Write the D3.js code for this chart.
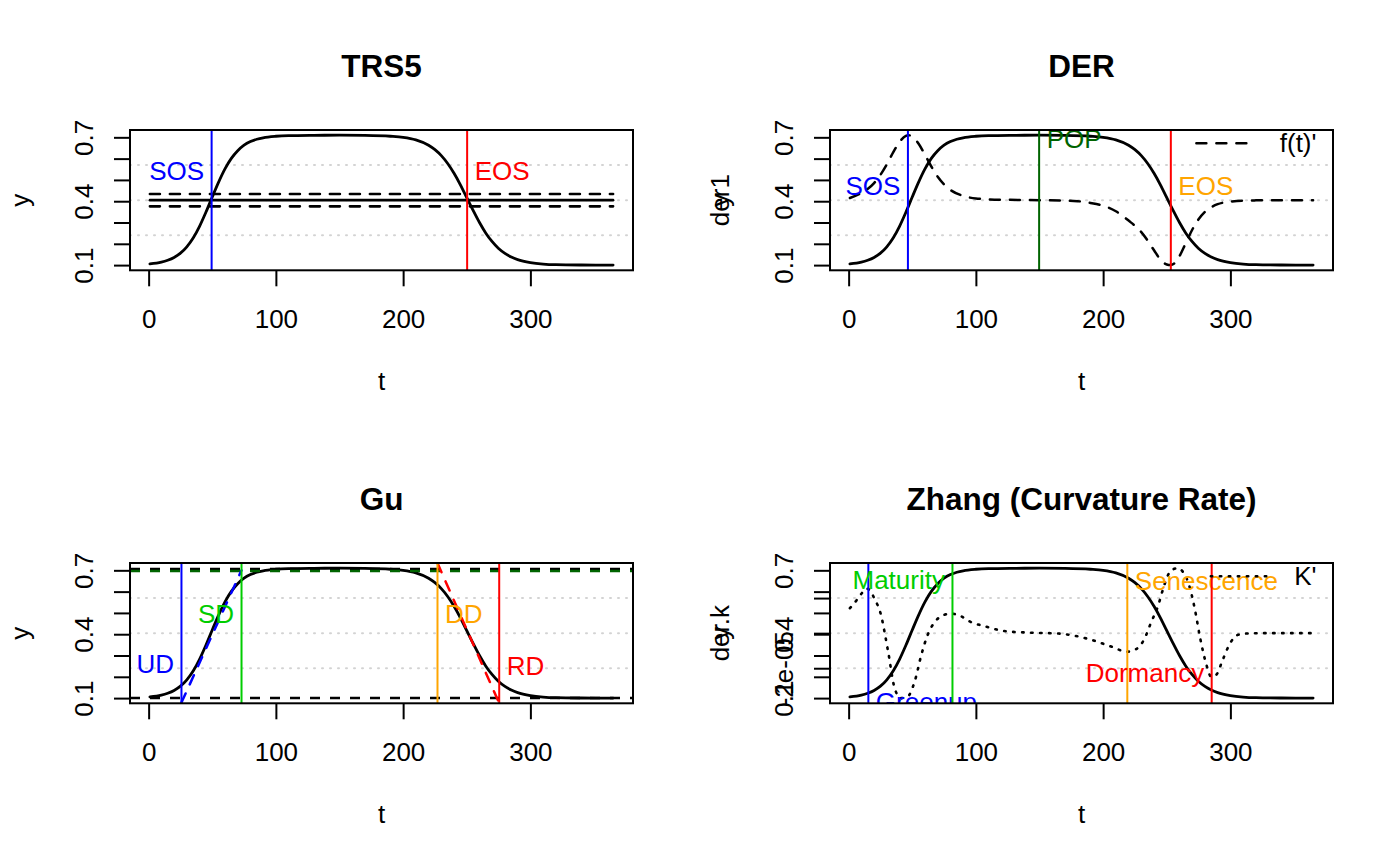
<!DOCTYPE html>
<html><head><meta charset="utf-8">
<script src="https://cdn.jsdelivr.net/npm/d3@7"></script>
<style>body{margin:0;background:#fff}</style>
</head><body><svg id="c" width="1400" height="866"></svg>
<script>
// ---------------- data ----------------
const titles = ["TRS5", "DER", "Gu", "Zhang (Curvature Rate)"];
const yTitles = [["y"], ["der1", "y"], ["y"], ["der.k", "y"]];
const xTitle = "t";
const xLim = [0, 366];
const yLim = [0.1, 0.71];
const xTicks = [0, 100, 200, 300];
const yTicks = [0.1, 0.2, 0.3, 0.4, 0.5, 0.6, 0.7];
const yTickLabels = ["0.1", "", "", "0.4", "", "", "0.7"];
const kTicks = [-2e-05, 0, 2e-05];
const kTickLabels = ["-2e-05", "", ""];
const kLim = [-4e-05, 4e-05];

// fitted curve (same in every panel)
const tCurve = [1, 10, 15, 20, 25, 30, 35, 40, 45, 50, 55, 60, 65, 70, 75, 80, 85, 90, 100, 110, 130, 150, 170, 190, 200, 210, 220, 225, 230, 235, 240, 245, 250, 255, 260, 265, 270, 275, 280, 285, 290, 300, 310, 320, 340, 365];
const yCurve = [0.106, 0.114, 0.123, 0.136, 0.156, 0.186, 0.227, 0.282, 0.348, 0.420, 0.490, 0.552, 0.601, 0.637, 0.663, 0.680, 0.691, 0.698, 0.705, 0.708, 0.7095, 0.710, 0.709, 0.705, 0.700, 0.688, 0.663, 0.642, 0.614, 0.577, 0.531, 0.477, 0.417, 0.357, 0.300, 0.250, 0.210, 0.178, 0.155, 0.138, 0.126, 0.112, 0.105, 0.102, 0.1005, 0.100];

// TRS5 panel
const trsLevels = [0.376, 0.405, 0.434];
const trsLevelDashed = [true, false, true];
const trsDates = [49.5, 250.3];
const trsNames = ["SOS", "EOS"];
const trsColors = ["blue", "red"];
const trsLabelY = [0.5, 0.5];
const trsSide = ["left", "right"];

// DER panel: scaled first derivative f(t)'
const tDer = [1, 10, 20, 25, 30, 35, 40, 45, 47, 50, 55, 60, 65, 70, 75, 80, 90, 100, 120, 150, 180, 190, 200, 210, 220, 230, 240, 245, 250, 253, 256, 260, 265, 270, 275, 280, 285, 290, 300, 320, 365];
const yDer = [0.415, 0.439, 0.485, 0.524, 0.573, 0.629, 0.678, 0.707, 0.71, 0.704, 0.670, 0.618, 0.563, 0.515, 0.479, 0.453, 0.425, 0.413, 0.407, 0.405, 0.400, 0.392, 0.379, 0.353, 0.309, 0.255, 0.170, 0.126, 0.103, 0.1, 0.108, 0.142, 0.204, 0.266, 0.315, 0.350, 0.372, 0.386, 0.398, 0.404, 0.405];
const derDates = [46.6, 149.7, 253.2];
const derNames = ["SOS", "POP", "EOS"];
const derLineColors = ["blue", "darkgreen", "red"];
const derTextColors = ["blue", "darkgreen", "orange"];
const derLabelY = [0.429, 0.648, 0.429];
const derSide = ["left", "right", "right"];
const derLegend = "f(t)'";

// Gu panel
const guLevels = [0.1, 0.706, 0.697];
const guLevelColors = ["black", "black", "darkgreen"];
const guDates = [25.8, 73, 227, 275.5];
const guNames = ["UD", "SD", "DD", "RD"];
const guColors = ["blue", "#00CD00", "orange", "red"];
const guLabelY = [0.216, 0.451, 0.451, 0.208];
const guSide = ["left", "left", "right", "right"];
const guUpT = [25.8, 73], guUpY = [0.079, 0.70];
const guDownT = [227, 275.5], guDownY = [0.734, 0.076];

// Zhang panel: curvature rate K'
const tK = [1, 5, 10, 14, 17, 20, 25, 31, 36, 41, 46, 52, 57, 62, 68, 74, 80, 88, 95, 108, 122, 140, 165, 190, 205, 219, 226, 232, 238, 243, 247, 251, 255, 259, 263, 267, 272, 276, 281, 285, 289, 294, 300, 306, 315, 325, 365];
const yK = [0.522, 0.55, 0.59, 0.614, 0.605, 0.57, 0.50, 0.32, 0.15, 0.10, 0.105, 0.18, 0.30, 0.395, 0.46, 0.488, 0.497, 0.485, 0.46, 0.436, 0.415, 0.408, 0.403, 0.375, 0.345, 0.318, 0.33, 0.373, 0.46, 0.53, 0.61, 0.678, 0.705, 0.71, 0.69, 0.64, 0.52, 0.39, 0.26, 0.20, 0.21, 0.28, 0.36, 0.397, 0.404, 0.405, 0.405];
const zhDates = [15.5, 81.6, 219, 285.3];
const zhNames = ["Greenup", "Maturity", "Senescence", "Dormancy"];
const zhColors = ["blue", "#00CD00", "orange", "red"];
const zhLabelY = [0.039, 0.614, 0.607, 0.177];
const zhSide = ["right", "left", "right", "left"];
const zhLegend = "K'";

// ---------------- drawing ----------------
const FF = '"Liberation Sans", Arial, Helvetica, sans-serif';
const FS = 26, TFS = 31.5;
const svg = d3.select("#c");
svg.append("rect").attr("width", 1400).attr("height", 866).attr("fill", "#fff");
const pad = (a) => { const r = a[1] - a[0]; return [a[0] - 0.04 * r, a[1] + 0.04 * r]; };
const xDom = pad(xLim), yDom = pad(yLim);
const gridFrac = [0.25, 0.5, 0.75];

function panel(i) {
  const col = i % 2, row = Math.floor(i / 2);
  const L = 130 + 700 * col, R = 633 + 700 * col, T = 130 + 433 * row, B = 270.3 + 433 * row;
  const x = d3.scaleLinear().domain(xDom).range([L, R]);
  const y = d3.scaleLinear().domain(yDom).range([B, T]);
  const g = svg.append("g").attr("font-family", FF);
  svg.append("clipPath").attr("id", "clip" + i).append("rect")
    .attr("x", L).attr("y", T).attr("width", R - L).attr("height", B - T);
  const pg = g.append("g").attr("clip-path", `url(#clip${i})`);
  gridFrac.forEach(f => {
    const v = yDom[0] + f * (yDom[1] - yDom[0]);
    pg.append("line").attr("x1", L).attr("x2", R).attr("y1", y(v)).attr("y2", y(v))
      .attr("stroke", "#D3D3D3").attr("stroke-width", 2).attr("stroke-dasharray", "1,7").attr("stroke-linecap", "round");
  });
  return { g, pg, x, y, L, R, T, B, i };
}

function finish(p, extraAxis) {
  const { g, x, y, L, R, T, B, i } = p;
  g.append("rect").attr("x", L).attr("y", T).attr("width", R - L).attr("height", B - T)
    .attr("fill", "none").attr("stroke", "#000").attr("stroke-width", 2);
  const ax = g.append("g").attr("transform", `translate(0,${B})`)
    .call(d3.axisBottom(x).tickValues(xTicks).tickSize(16).tickFormat(d3.format("d")));
  ax.attr("font-size", FS).attr("font-family", FF);
  ax.select(".domain").remove();
  ax.selectAll(".tick line").attr("stroke", "#000").attr("stroke-width", 2);
  ax.selectAll(".tick text").attr("y", 58).attr("dy", null).attr("fill", "#000");
  const axes = [[y, yTicks, yTickLabels]];
  if (extraAxis) axes.push(extraAxis);
  axes.forEach(([sc, tv, tl]) => {
    const ay = g.append("g").attr("transform", `translate(${L},0)`)
      .call(d3.axisLeft(sc).tickValues(tv).tickSize(16).tickFormat(d => tl[tv.indexOf(d)]));
    ay.attr("font-size", FS).attr("font-family", FF);
    ay.select(".domain").remove();
    ay.selectAll(".tick line").attr("stroke", "#000").attr("stroke-width", 2);
    ay.selectAll(".tick text").attr("x", null).attr("dy", null).attr("fill", "#000")
      .attr("text-anchor", "middle").attr("transform", "translate(-37,0) rotate(-90)");
  });
  g.append("text").attr("x", (L + R) / 2).attr("y", T - 52.7).attr("text-anchor", "middle")
    .attr("font-size", TFS).attr("font-weight", "bold").text(titles[i]);
  g.append("text").attr("x", (L + R) / 2).attr("y", B + 119.7).attr("text-anchor", "middle")
    .attr("font-size", FS).text(xTitle);
  yTitles[i].forEach(s => {
    g.append("text").attr("transform", `translate(${L - 101.4},${(T + B) / 2}) rotate(-90)`)
      .attr("text-anchor", "middle").attr("font-size", FS).text(s);
  });
}

function curve(p, ts, ys, color, width, dash) {
  const line = d3.line().x((d, k) => p.x(ts[k])).y((d, k) => p.y(ys[k])).curve(d3.curveMonotoneX);
  p.pg.append("path").attr("d", line(ts)).attr("fill", "none").attr("stroke", color)
    .attr("stroke-width", width).attr("stroke-dasharray", dash || null)
    .attr("stroke-linecap", "round").attr("stroke-linejoin", "round");
}
function vline(p, t, color) {
  p.pg.append("line").attr("x1", p.x(t)).attr("x2", p.x(t)).attr("y1", p.T).attr("y2", p.B)
    .attr("stroke", color).attr("stroke-width", 2);
}
function hline(p, v, color, dash, width) {
  p.pg.append("line").attr("x1", p.L).attr("x2", p.R).attr("y1", p.y(v)).attr("y2", p.y(v))
    .attr("stroke", color).attr("stroke-width", width || 2.5).attr("stroke-dasharray", dash || null);
}
function label(p, t, v, txt, color, side) {
  p.pg.append("text").attr("x", p.x(t) + (side === "left" ? -7.5 : 7.5)).attr("y", p.y(v))
    .attr("text-anchor", side === "left" ? "end" : "start").attr("font-size", FS)
    .attr("fill", color).text(txt);
}
function legend(p, txt, dash) {
  const ty = p.T + 13.3;
  const tx = p.g.append("text").attr("y", ty + 8.5).attr("font-size", FS).text(txt);
  const w = tx.node().getComputedTextLength();
  const x0 = p.R - 16.5 - w;
  tx.attr("x", x0);
  p.g.append("line").attr("x1", x0 - 83.4).attr("x2", x0 - 26.7).attr("y1", ty).attr("y2", ty)
    .attr("stroke", "#000").attr("stroke-width", 2.5).attr("stroke-dasharray", dash)
    .attr("stroke-linecap", "round");
}
const DASH = "10,10", DOT = "1.5,7.5";

// Panel 1: TRS5
{
  const p = panel(0);
  curve(p, tCurve, yCurve, "#000", 2.8);
  trsLevels.forEach((v, k) => {
    const ts = [tCurve[0], tCurve[tCurve.length - 1]];
    p.pg.append("line").attr("x1", p.x(ts[0])).attr("x2", p.x(ts[1])).attr("y1", p.y(v)).attr("y2", p.y(v))
      .attr("stroke", "#000").attr("stroke-width", 2.6)
      .attr("stroke-dasharray", trsLevelDashed[k] ? DASH : null).attr("stroke-linecap", "round");
  });
  trsDates.forEach((t, k) => { vline(p, t, trsColors[k]); label(p, t, trsLabelY[k], trsNames[k], trsColors[k], trsSide[k]); });
  finish(p);
}
// Panel 2: DER
{
  const p = panel(1);
  curve(p, tCurve, yCurve, "#000", 2.8);
  curve(p, tDer, yDer, "#000", 2.5, DASH);
  derDates.forEach((t, k) => { vline(p, t, derLineColors[k]); label(p, t, derLabelY[k], derNames[k], derTextColors[k], derSide[k]); });
  legend(p, derLegend, DASH);
  finish(p);
}
// Panel 3: Gu
{
  const p = panel(2);
  curve(p, tCurve, yCurve, "#000", 2.8);
  guLevels.forEach((v, k) => hline(p, v, guLevelColors[k], DASH, 2.5));
  curve(p, guUpT, guUpY, "blue", 2.5, DASH);
  curve(p, guDownT, guDownY, "red", 2.5, DASH);
  guDates.forEach((t, k) => { vline(p, t, guColors[k]); label(p, t, guLabelY[k], guNames[k], guColors[k], guSide[k]); });
  finish(p);
}
// Panel 4: Zhang
{
  const p = panel(3);
  curve(p, tCurve, yCurve, "#000", 2.8);
  curve(p, tK, yK, "#000", 2.6, DOT);
  zhDates.forEach((t, k) => { vline(p, t, zhColors[k]); label(p, t, zhLabelY[k], zhNames[k], zhColors[k], zhSide[k]); });
  legend(p, zhLegend, DOT);
  const yKs = d3.scaleLinear().domain(kLim).range([p.B, p.T]);
  finish(p, [yKs, kTicks, kTickLabels]);
}
</script></body></html>
